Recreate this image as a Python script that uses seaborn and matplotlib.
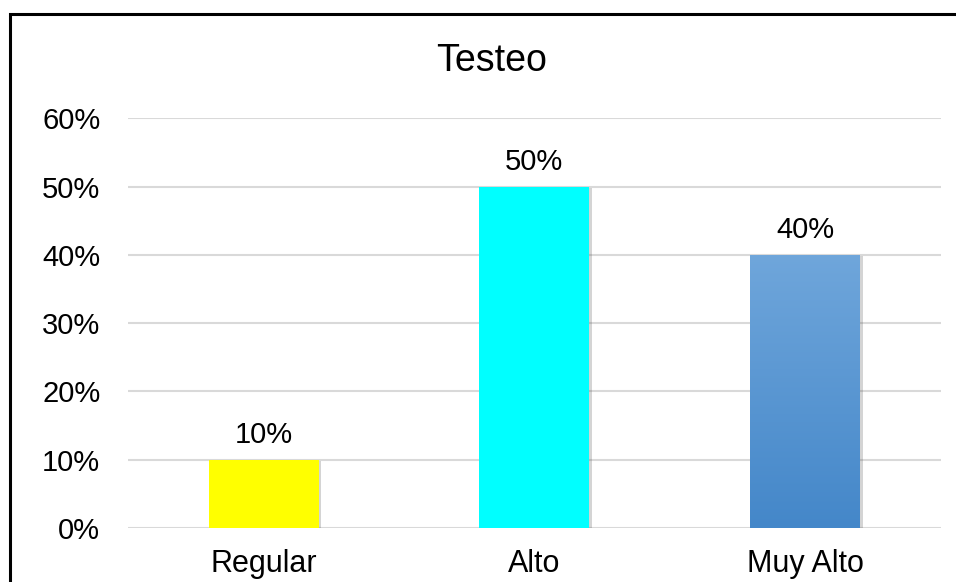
import numpy as np
import pandas as pd
import matplotlib
import matplotlib.pyplot as plt
import matplotlib.patheffects as pe
from matplotlib.patches import Rectangle
from matplotlib.colors import LinearSegmentedColormap
from matplotlib.ticker import PercentFormatter
import seaborn as sns

matplotlib.use('Agg')

categories = ["Regular", "Alto", "Muy Alto"]
values = [0.10, 0.50, 0.40]
bar_colors = ["#FFFF00", "#00FFFF", "#5A9BD8"]
title = "Testeo"

sns.set_style("white")
plt.rcParams['font.family'] = ['Liberation Sans', 'DejaVu Sans']
plt.rcParams['text.color'] = 'black'
plt.rcParams['xtick.color'] = 'black'
plt.rcParams['ytick.color'] = 'black'

fig = plt.figure(figsize=(9.56, 5.82), dpi=100)
ax = fig.add_axes([0.134, 0.0928, 0.850, 0.7036])

df = pd.DataFrame({"cat": categories, "val": values})
sns.barplot(data=df, x="cat", y="val", hue="cat", palette=bar_colors,
            width=0.406, saturation=1, legend=False, ax=ax, zorder=3)

# soft drop shadow like the Excel bars
shadow = [pe.SimplePatchShadow(offset=(2, -1), alpha=0.25, shadow_rgbFace='#555555'), pe.Normal()]
for p in ax.patches:
    p.set_edgecolor('none')
    p.set_path_effects(shadow)

# gradient fill on the last bar
grad = LinearSegmentedColormap.from_list("blu", ["#4487C9", "#6FA6DB"])
last = ax.patches[2]
x0, w = last.get_x(), last.get_width()
h = last.get_height()
img = ax.imshow(np.linspace(0, 1, 256).reshape(-1, 1), cmap=grad, origin='lower',
                extent=[x0, x0 + w, 0, h], aspect='auto', zorder=4)
img.set_clip_path(last)

ax.set_xlim(-0.5, 2.5)
ax.set_ylim(0, 0.6)
ax.set_yticks(np.arange(0, 0.61, 0.1))
ax.yaxis.set_major_formatter(PercentFormatter(1.0, decimals=0))
ax.grid(axis='y', color='#D9D9D9', linewidth=1.5, zorder=0)
ax.set_axisbelow(True)
for s in ax.spines.values():
    s.set_visible(False)
ax.set_xlabel("")
ax.set_ylabel("")
ax.tick_params(axis='y', length=0, pad=20, labelsize=21, labelcolor='black')
ax.tick_params(axis='x', length=0, pad=15, labelsize=22, labelcolor='black')

for xi, v in enumerate(values):
    ax.annotate(f"{v:.0%}", (xi, v), xytext=(0, 8), textcoords='offset points',
                ha='center', va='bottom', fontsize=21, color='black')

fig.text(0.514, 0.878, title, ha='center', va='baseline', fontsize=27, color='black')

# chart border
fig.patches.append(Rectangle((10 / 956, -0.1), 1.1, 1.1 - 14 / 582, transform=fig.transFigure,
                             fill=False, edgecolor='black', linewidth=2.2, zorder=10))

fig.savefig("out.png", dpi=100)
plt.close(fig)
